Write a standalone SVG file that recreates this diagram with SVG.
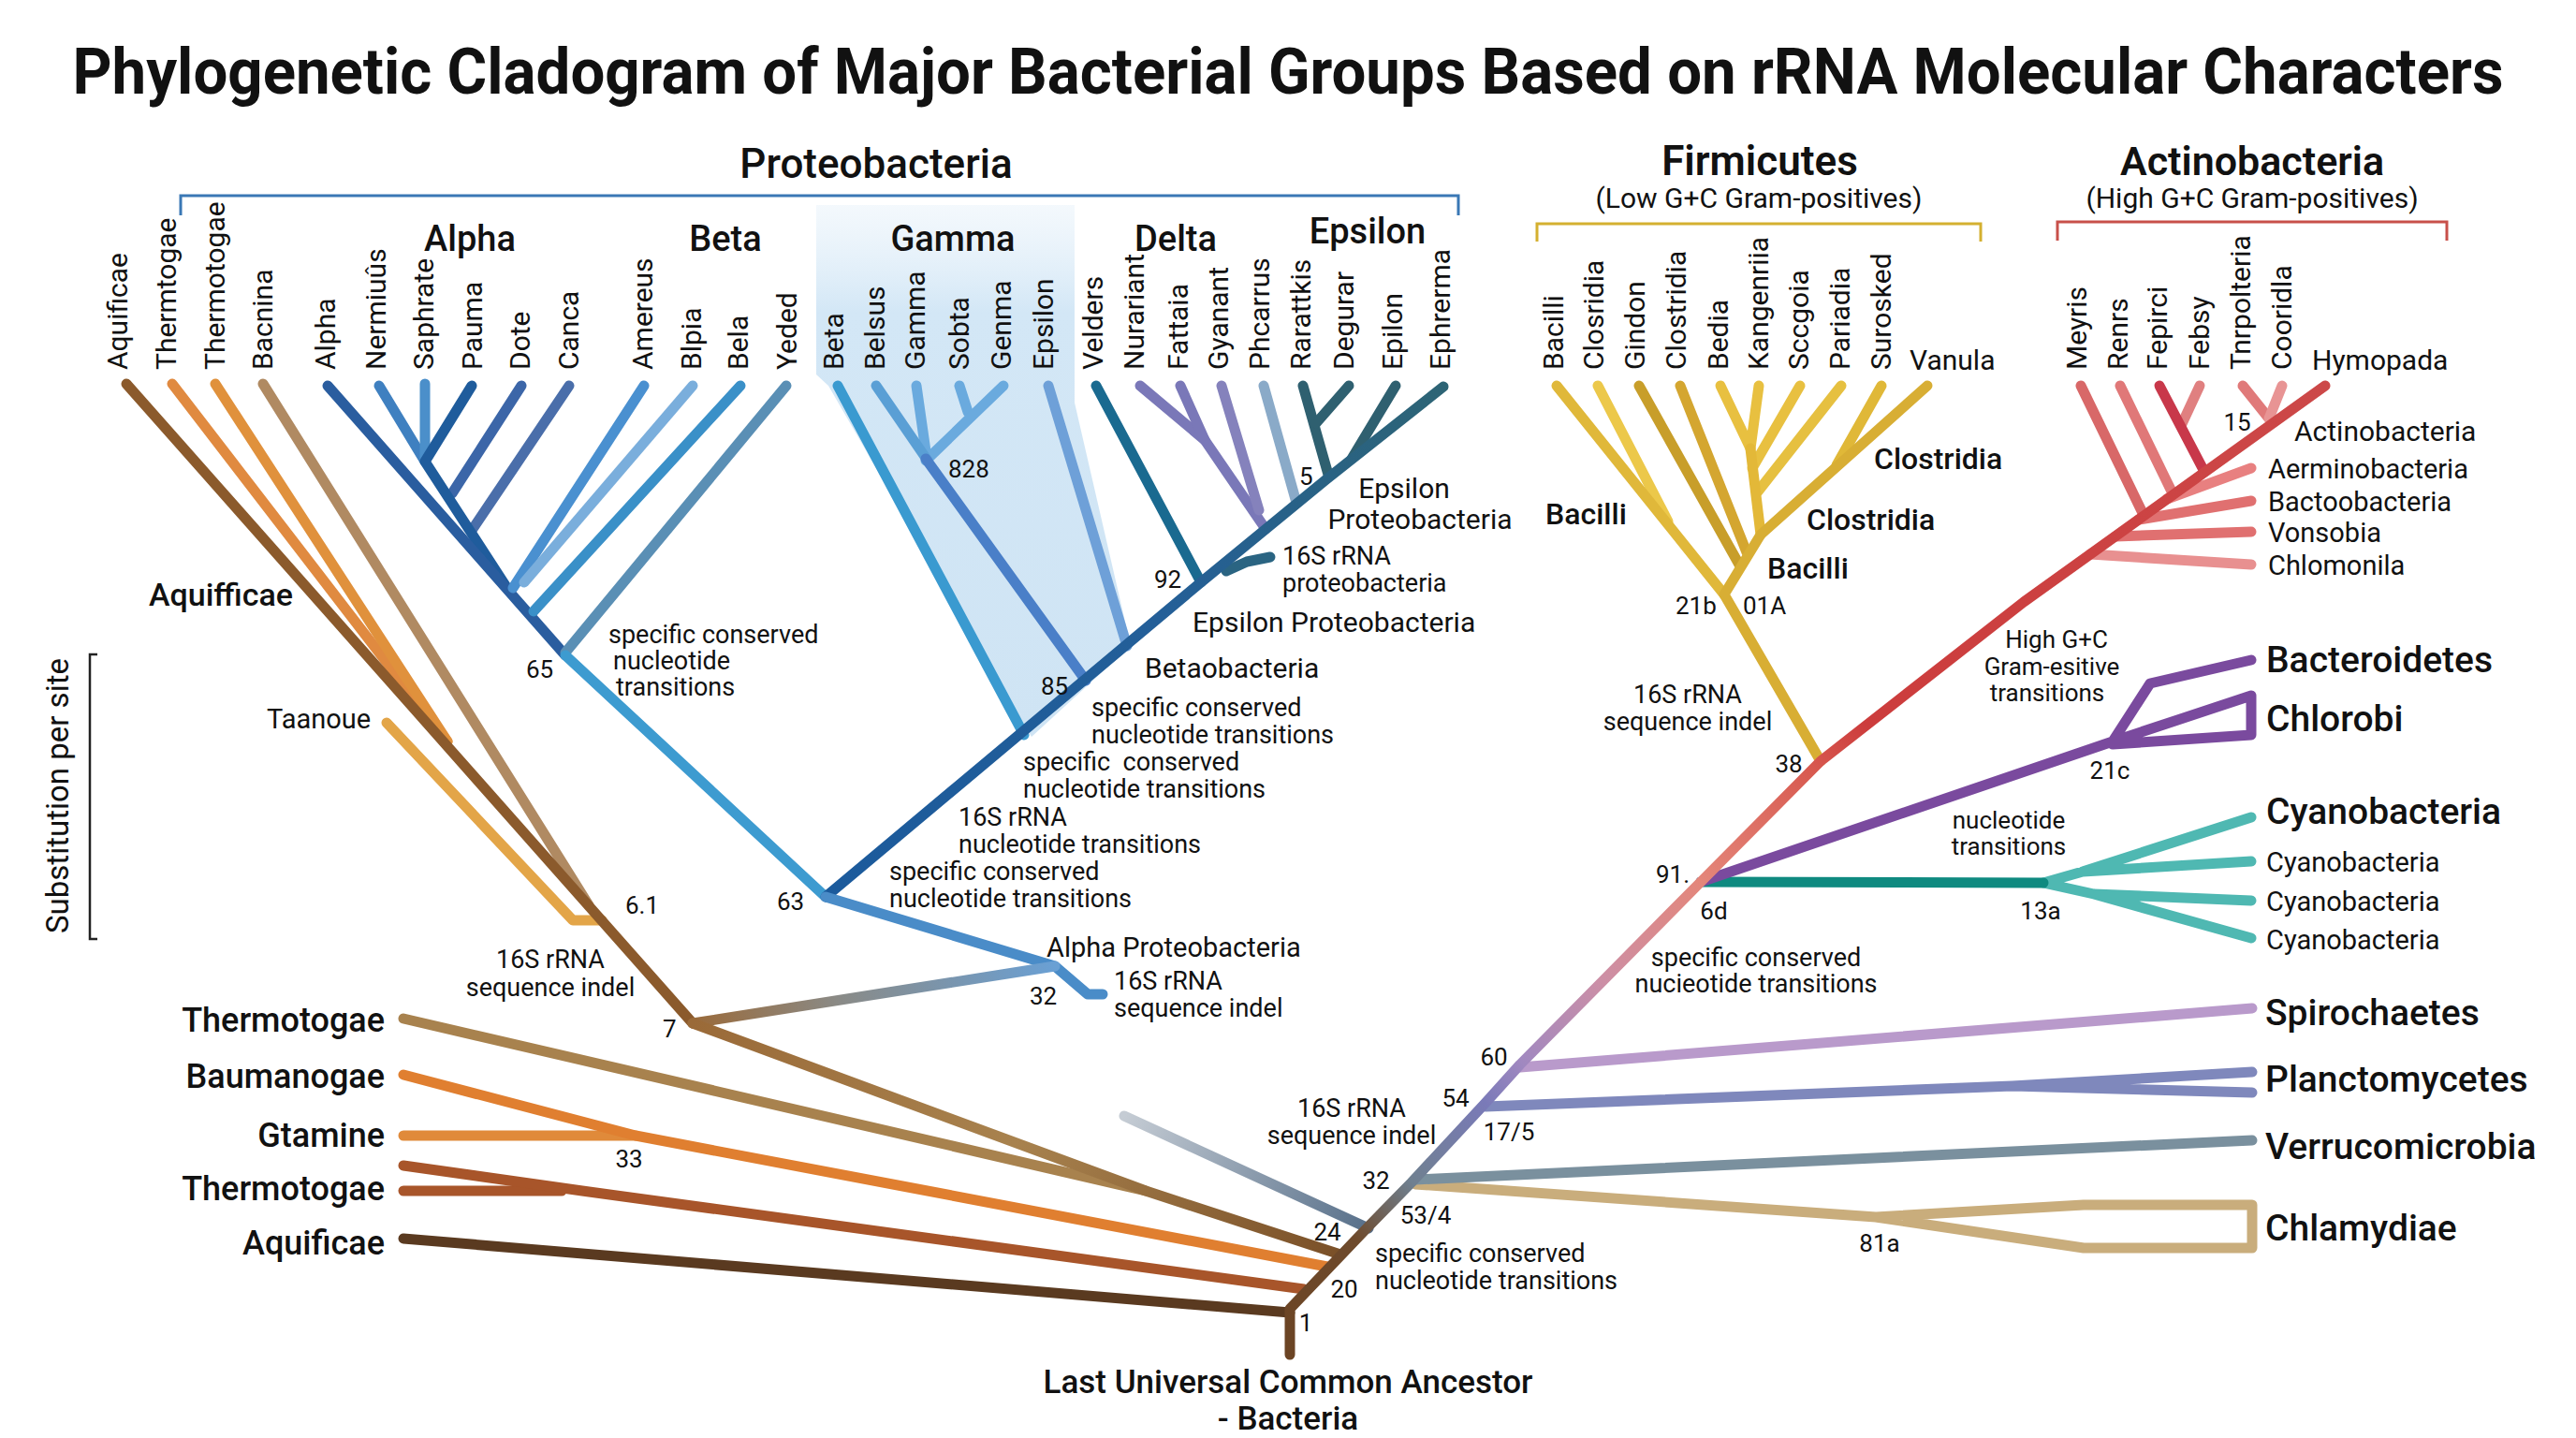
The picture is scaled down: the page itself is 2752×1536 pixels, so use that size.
<svg xmlns="http://www.w3.org/2000/svg" width="2752" height="1536" viewBox="0 0 2752 1536">
<style>
text{font-family:Roboto,"Liberation Sans",sans-serif;fill:#111}
.rl{font-size:30px}
.hd{font-size:38px;font-weight:500;text-anchor:middle}
.num{font-size:26px}
.nm{font-size:26px;text-anchor:middle}
.ann{font-size:27px}
.am{font-size:27px;text-anchor:middle}
.lbl{font-size:30px;font-weight:500}
.big{font-size:39px;font-weight:500}
.lft{font-size:36px;font-weight:500;text-anchor:end}
.grp{font-size:44px;font-weight:600;text-anchor:middle}
.sub{font-size:30px;text-anchor:middle}
.br{fill:none;stroke-width:11;stroke-linecap:round;stroke-linejoin:round}
.bk{fill:none;stroke-width:3}
</style>
<defs>
<linearGradient id="gShade" x1="0" y1="219" x2="0" y2="790" gradientUnits="userSpaceOnUse">
<stop offset="0" stop-color="#e8f2fa" stop-opacity="0.5"/>
<stop offset="0.2" stop-color="#d3e7f6"/>
<stop offset="1" stop-color="#cfe4f4"/>
</linearGradient>
<linearGradient id="gSpine" x1="1378" y1="1447" x2="2484" y2="412" gradientUnits="userSpaceOnUse">
<stop offset="0" stop-color="#6b4424"/>
<stop offset="0.09" stop-color="#6e4a2c"/>
<stop offset="0.146" stop-color="#6f8090"/>
<stop offset="0.222" stop-color="#7a7ab8"/>
<stop offset="0.26" stop-color="#a088c0"/>
<stop offset="0.34" stop-color="#cc8fa6"/>
<stop offset="0.44" stop-color="#e4867a"/>
<stop offset="0.55" stop-color="#d85a50"/>
<stop offset="0.6" stop-color="#cc3c3c"/>
<stop offset="1" stop-color="#cc4848"/>
</linearGradient>
<linearGradient id="gProteo" x1="882" y1="958" x2="1542" y2="413" gradientUnits="userSpaceOnUse">
<stop offset="0" stop-color="#1b5a9c"/>
<stop offset="0.55" stop-color="#245f98"/>
<stop offset="1" stop-color="#2d6475"/>
</linearGradient>
<linearGradient id="gSeven" x1="740" y1="1093" x2="1127" y2="1032" gradientUnits="userSpaceOnUse">
<stop offset="0" stop-color="#9a6a3a"/>
<stop offset="0.4" stop-color="#8a8a86"/>
<stop offset="1" stop-color="#6aa0d4"/>
</linearGradient>
<linearGradient id="gGray" x1="1201" y1="1192" x2="1462" y2="1312" gradientUnits="userSpaceOnUse">
<stop offset="0" stop-color="#c5ccd4"/>
<stop offset="1" stop-color="#58708a"/>
</linearGradient>
<linearGradient id="gSevenDown" x1="740" y1="1093" x2="1432" y2="1340" gradientUnits="userSpaceOnUse">
<stop offset="0" stop-color="#9a6a38"/>
<stop offset="0.5" stop-color="#a8824e"/>
<stop offset="1" stop-color="#7a5028"/>
</linearGradient>
</defs>
<rect width="2752" height="1536" fill="#ffffff"/>

<!-- shaded gamma area -->
<polygon points="872,219 1148,219 1148,430 1208,690 1102,787 885,412 872,400" fill="url(#gShade)"/>

<!-- title -->
<text id="title" transform="scale(1,1.15)" x="1376" y="87" text-anchor="middle" font-size="59" font-weight="700" textLength="2597" lengthAdjust="spacingAndGlyphs">Phylogenetic Cladogram of Major Bacterial Groups Based on rRNA Molecular Characters</text>

<!-- group headers and brackets -->
<g id="hdr-proteo">
<text class="grp" x="936" y="190" style="font-weight:500">Proteobacteria</text>
<path class="bk" d="M193,230 V209 H1558 V230" stroke="#3a78b5"/>
</g>
<g id="hdr-firmicutes">
<text class="grp" x="1880" y="187">Firmicutes</text>
<text class="sub" x="1879" y="222">(Low G+C Gram-positives)</text>
<path class="bk" d="M1642,258 V239 H2116 V258" stroke="#d4b030"/>
</g>
<g id="hdr-actino">
<text class="grp" x="2406" y="187" style="font-size:43px">Actinobacteria</text>
<text class="sub" x="2406" y="222">(High G+C Gram-positives)</text>
<path class="bk" d="M2198,257 V237 H2614 V257" stroke="#c8504a"/>
</g>
<g id="subclass-headers">
<text class="hd" x="502" y="268">Alpha</text>
<text class="hd" x="775" y="268">Beta</text>
<text class="hd" x="1018" y="268">Gamma</text>
<text class="hd" x="1256" y="268">Delta</text>
<text class="hd" x="1461" y="260">Epsilon</text>
</g>

<!-- scale -->
<g id="scale">
<text transform="translate(73,850) rotate(-90)" text-anchor="middle" font-size="33">Substitution per site</text>
<path d="M104,699 H96 V1003 H104" fill="none" stroke="#222" stroke-width="2.5"/>
</g>

<!-- connectors -->
<g id="connectors">
<!-- outgroup top -->
<path class="br" stroke="#e3a548" d="M413,772 L612,983 L643,983"/>
<path class="br" stroke="#e08a40" d="M184,410 L478,792"/>
<path class="br" stroke="#e0913c" d="M230,410 L478,792"/>
<path class="br" stroke="#b08a62" d="M281,410 L629,967"/>
<path class="br" stroke="#8b5a2c" d="M135,410 L740,1093"/>
<!-- alpha -->
<path class="br" stroke="#3f80c0" d="M405,412 L454,493"/>
<path class="br" stroke="#4b8fca" d="M454,410 L454,490"/>
<path class="br" stroke="#3c66a8" d="M557,412 L483,527"/>
<path class="br" stroke="#4a6eaa" d="M608,412 L505,565"/>
<path class="br" stroke="#1f5c9c" d="M504,412 L454,493 L541,627"/>
<path class="br" stroke="#2a5d9f" d="M350,412 L604,700"/>
<!-- beta -->
<path class="br" stroke="#4a90d0" d="M688,412 L548,628"/>
<path class="br" stroke="#7aaedc" d="M740,412 L560,622"/>
<path class="br" stroke="#3a90c8" d="M791,412 L570,653"/>
<path class="br" stroke="#5a8fb5" d="M840,412 L604,697"/>
<path class="br" stroke="#3d9bd0" d="M604,700 L882,958"/>
<!-- gamma -->
<path class="br" stroke="#3a9ad0" d="M895,412 L1094,785"/>
<path class="br" stroke="#6aaade" d="M979,412 L989,482"/>
<path class="br" stroke="#6aaade" d="M1025,412 L1034,440"/>
<path class="br" stroke="#6aaade" d="M1072,412 L989,492"/>
<path class="br" stroke="#5a9fd5" d="M936,412 L991,492"/>
<path class="br" stroke="#4a7fc8" d="M989,490 L1160,727"/>
<path class="br" stroke="#6ea0d8" d="M1120,412 L1204,690"/>
<!-- delta -->
<path class="br" stroke="#1a6a90" d="M1171,412 L1283,622"/>
<path class="br" stroke="#7a78b8" d="M1218,412 L1287,470 L1352,565"/>
<path class="br" stroke="#7a78b8" d="M1261,412 L1287,470"/>
<path class="br" stroke="#8582bc" d="M1305,412 L1345,545"/>
<path class="br" stroke="#8aaac8" d="M1350,412 L1385,537"/>
<!-- epsilon -->
<path class="br" stroke="#2f6070" d="M1392,412 L1419,507"/>
<path class="br" stroke="#2f6070" d="M1441,412 L1406,452"/>
<path class="br" stroke="#2f6070" d="M1491,412 L1444,490"/>
<path class="br" stroke="#2a6482" d="M1310,610 L1332,600 L1357,595"/>
<path class="br" stroke="url(#gProteo)" d="M882,958 L1283,622 L1417,512 L1542,413"/>
<!-- alpha proteobacteria and node 7 -->
<path class="br" stroke="#4a8cc8" d="M882,958 L1127,1032 L1162,1062 L1178,1062"/>
<path class="br" stroke="url(#gSeven)" d="M740,1093 L1127,1032"/>
<!-- bottom left -->
<path class="br" stroke="#a8824e" d="M431,1088 L1224,1272"/>
<path class="br" stroke="url(#gSevenDown)" d="M740,1093 L1224,1272 L1432,1340"/>
<path class="br" stroke="#e08a3a" d="M431,1213 L679,1213"/>
<path class="br" stroke="#e07f30" d="M431,1148 L679,1213 L1418,1353"/>
<path class="br" stroke="#a8552a" d="M431,1272 L600,1272"/>
<path class="br" stroke="#a8552a" d="M431,1245 L622,1272 L1393,1377"/>
<path class="br" stroke="#5a3a20" d="M431,1323 L1378,1402"/>
<path class="br" stroke="url(#gGray)" d="M1201,1192 L1462,1312"/>
<!-- right side -->
<path class="br" stroke="#c9ad7c" d="M1512,1265 L2004,1300 L2226,1287 L2406,1287 L2406,1333 L2226,1333 L2004,1300"/>
<path class="br" stroke="#7a909e" d="M1512,1260 L2406,1218"/>
<path class="br" stroke="#7f88bc" d="M1587,1182 L2150,1160 L2406,1145 M2150,1160 L2406,1167"/>
<path class="br" stroke="#b99acb" d="M1624,1140 L2406,1077"/>
<path class="br" stroke="#4fb8b2" d="M2183,943 L2225,931 L2405,873 M2225,931 L2405,920 M2183,943 L2237,955 L2405,962 M2237,955 L2405,1002"/>
<path class="br" stroke="#0f8a80" d="M1817,942 L2183,943"/>
<path class="br" stroke="#7a4a9e" d="M1817,942 L2257,792 L2297,730 L2405,705 M2257,792 L2405,743 L2405,785 L2257,795"/>
<!-- firmicutes -->
<path class="br" stroke="#ecc84a" d="M1707,412 L1782,557"/>
<path class="br" stroke="#e0b83a" d="M1663,412 L1842,635"/>
<path class="br" stroke="#c89e2a" d="M1751,412 L1858,603"/>
<path class="br" stroke="#d4a630" d="M1795,412 L1866,590"/>
<path class="br" stroke="#e8c040" d="M1838,412 L1870,479 M1879,412 L1870,479"/>
<path class="br" stroke="#e8c040" d="M1923,412 L1872,500"/>
<path class="br" stroke="#e6c040" d="M1967,412 L1878,525"/>
<path class="br" stroke="#e3b838" d="M1870,479 L1881,571"/>
<path class="br" stroke="#e0b838" d="M2010,412 L1962,497"/>
<path class="br" stroke="#d8ae34" d="M2059,412 L1881,571 L1842,635 L1945,813"/>
<!-- actinobacteria -->
<path class="br" stroke="#d86868" d="M2223,412 L2290,550"/>
<path class="br" stroke="#e07878" d="M2265,412 L2321,527"/>
<path class="br" stroke="#e08080" d="M2350,412 L2330,455"/>
<path class="br" stroke="#c8384a" d="M2307,412 L2353,500"/>
<path class="br" stroke="#e07a7a" d="M2396,412 L2424,447"/>
<path class="br" stroke="#e89494" d="M2438,412 L2424,447"/>
<path class="br" stroke="#e88080" d="M2315,533 L2405,500"/>
<path class="br" stroke="#e07070" d="M2285,555 L2405,535"/>
<path class="br" stroke="#e07070" d="M2260,573 L2405,568"/>
<path class="br" stroke="#e89090" d="M2233,592 L2405,603"/>
<!-- universal spine -->
<path class="br" stroke="url(#gSpine)" stroke-width="12" d="M1378,1447 L1378,1398 L1462,1310 L1508,1263 L1587,1178 L1624,1137 L1817,942 L1945,813 L2162,643 L2484,412"/>
</g>

<!-- leaf nodes: outgroup top -->
<g id="n-aquificae-top"><text class="rl" transform="translate(136,395) rotate(-90)">Aquificae</text></g>
<g id="n-thermtogae"><text class="rl" transform="translate(188,395) rotate(-90)">Thermtogae</text></g>
<g id="n-thermotogae-top"><text class="rl" transform="translate(240,395) rotate(-90)">Thermotogae</text></g>
<g id="n-bacnina"><text class="rl" transform="translate(291,395) rotate(-90)">Bacnina</text></g>
<!-- alpha -->
<g id="n-alpha"><text class="rl" transform="translate(358,395) rotate(-90)">Alpha</text></g>
<g id="n-nermiuus"><text class="rl" transform="translate(412,395) rotate(-90)">Nermiuûs</text></g>
<g id="n-saphrate"><text class="rl" transform="translate(463,395) rotate(-90)">Saphrate</text></g>
<g id="n-pauma"><text class="rl" transform="translate(515,395) rotate(-90)">Pauma</text></g>
<g id="n-dote"><text class="rl" transform="translate(566,395) rotate(-90)">Dote</text></g>
<g id="n-canca"><text class="rl" transform="translate(618,395) rotate(-90)">Canca</text></g>
<!-- beta -->
<g id="n-amereus"><text class="rl" transform="translate(697,395) rotate(-90)">Amereus</text></g>
<g id="n-blpia"><text class="rl" transform="translate(749,395) rotate(-90)">Blpia</text></g>
<g id="n-bela"><text class="rl" transform="translate(799,395) rotate(-90)">Bela</text></g>
<g id="n-yeded"><text class="rl" transform="translate(851,395) rotate(-90)">Yeded</text></g>
<!-- gamma -->
<g id="n-beta"><text class="rl" transform="translate(901,395) rotate(-90)">Beta</text></g>
<g id="n-belsus"><text class="rl" transform="translate(945,395) rotate(-90)">Belsus</text></g>
<g id="n-gamma"><text class="rl" transform="translate(988,395) rotate(-90)">Gamma</text></g>
<g id="n-sobta"><text class="rl" transform="translate(1035,395) rotate(-90)">Sobta</text></g>
<g id="n-genma"><text class="rl" transform="translate(1080,395) rotate(-90)">Genma</text></g>
<g id="n-epsilon-g"><text class="rl" transform="translate(1125,395) rotate(-90)">Epsilon</text></g>
<!-- delta -->
<g id="n-velders"><text class="rl" transform="translate(1178,395) rotate(-90)">Velders</text></g>
<g id="n-nurariant"><text class="rl" transform="translate(1222,395) rotate(-90)">Nurariant</text></g>
<g id="n-fattaia"><text class="rl" transform="translate(1269,395) rotate(-90)">Fattaia</text></g>
<g id="n-gyanant"><text class="rl" transform="translate(1312,395) rotate(-90)">Gyanant</text></g>
<g id="n-phcarrus"><text class="rl" transform="translate(1356,395) rotate(-90)">Phcarrus</text></g>
<!-- epsilon -->
<g id="n-rarattkis"><text class="rl" transform="translate(1400,395) rotate(-90)">Rarattkis</text></g>
<g id="n-degurar"><text class="rl" transform="translate(1446,395) rotate(-90)">Degurar</text></g>
<g id="n-epilon"><text class="rl" transform="translate(1498,395) rotate(-90)">Epilon</text></g>
<g id="n-ephrerma"><text class="rl" transform="translate(1549,395) rotate(-90)">Ephrerma</text></g>
<!-- firmicutes -->
<g id="n-bacilli-f"><text class="rl" transform="translate(1670,395) rotate(-90)">Bacilli</text></g>
<g id="n-closridia"><text class="rl" transform="translate(1713,395) rotate(-90)">Closridia</text></g>
<g id="n-gindon"><text class="rl" transform="translate(1757,395) rotate(-90)">Gindon</text></g>
<g id="n-clostridia-f"><text class="rl" transform="translate(1801,395) rotate(-90)">Clostridia</text></g>
<g id="n-bedia"><text class="rl" transform="translate(1846,395) rotate(-90)">Bedia</text></g>
<g id="n-kangenriia"><text class="rl" transform="translate(1889,395) rotate(-90)">Kangenriia</text></g>
<g id="n-sccgoia"><text class="rl" transform="translate(1932,395) rotate(-90)">Sccgoia</text></g>
<g id="n-pariadia"><text class="rl" transform="translate(1976,395) rotate(-90)">Pariadia</text></g>
<g id="n-surosked"><text class="rl" transform="translate(2020,395) rotate(-90)">Surosked</text></g>
<g id="n-vanula"><text class="rl" x="2040" y="395">Vanula</text></g>
<!-- actinobacteria -->
<g id="n-meyris"><text class="rl" transform="translate(2229,395) rotate(-90)">Meyris</text></g>
<g id="n-renrs"><text class="rl" transform="translate(2273,395) rotate(-90)">Renrs</text></g>
<g id="n-fepirci"><text class="rl" transform="translate(2315,395) rotate(-90)">Fepirci</text></g>
<g id="n-febsy"><text class="rl" transform="translate(2360,395) rotate(-90)">Febsy</text></g>
<g id="n-tnrpolteria"><text class="rl" transform="translate(2404,395) rotate(-90)">Tnrpolteria</text></g>
<g id="n-cooridla"><text class="rl" transform="translate(2448,395) rotate(-90)">Cooridla</text></g>
<g id="n-hymopada"><text class="rl" x="2470" y="395">Hymopada</text></g>

<!-- left internal labels -->
<g id="n-aquifficae"><text x="159" y="647" font-size="34" font-weight="500">Aquifficae</text></g>
<g id="n-taanoue"><text x="285" y="778" font-size="29">Taanoue</text></g>
<g id="nd-61"><text class="num" x="668" y="976">6.1</text></g>
<g id="ann-left-indel"><text class="am" x="588" y="1034">16S rRNA</text><text class="am" x="588" y="1064">sequence indel</text></g>
<g id="nd-7"><text class="num" x="708" y="1108">7</text></g>
<g id="nd-65"><text class="num" x="562" y="724">65</text></g>
<g id="ann-65"><text class="ann" x="650" y="687">specific conserved</text><text class="ann" x="655" y="715">nucleotide</text><text class="ann" x="658" y="743">transitions</text></g>
<g id="nd-63"><text class="num" x="830" y="972">63</text></g>

<!-- proteobacteria internal labels -->
<g id="ann-p1"><text class="ann" x="950" y="940">specific conserved</text><text class="ann" x="950" y="969">nucleotide transitions</text></g>
<g id="ann-p2"><text class="ann" x="1024" y="882">16S rRNA</text><text class="ann" x="1024" y="911">nucleotide transitions</text></g>
<g id="ann-p3"><text class="ann" x="1093" y="823" xml:space="preserve">specific  conserved</text><text class="ann" x="1093" y="852">nucleotide transitions</text></g>
<g id="ann-p4"><text class="ann" x="1166" y="765">specific conserved</text><text class="ann" x="1166" y="794">nucleotide transitions</text></g>
<g id="n-betaobacteria"><text class="lbl" x="1223" y="724" style="font-weight:400">Betaobacteria</text></g>
<g id="nd-85"><text class="num" x="1112" y="742">85</text></g>
<g id="nd-828"><text class="num" x="1013" y="510">828</text></g>
<g id="n-epsilon-proteo-lower"><text class="lbl" x="1274" y="675" style="font-weight:400">Epsilon Proteobacteria</text></g>
<g id="nd-92"><text class="num" x="1233" y="628">92</text></g>
<g id="ann-16s-proteo"><text class="ann" x="1370" y="603">16S rRNA</text><text class="ann" x="1370" y="632">proteobacteria</text></g>
<g id="n-epsilon-proteo-upper"><text class="lbl" x="1500" y="532" text-anchor="middle" style="font-weight:400">Epsilon</text><text class="lbl" x="1517" y="565" text-anchor="middle" style="font-weight:400">Proteobacteria</text></g>
<g id="nd-5"><text class="num" x="1388" y="518">5</text></g>
<g id="n-alpha-proteo"><text class="lbl" x="1118" y="1022" style="font-size:29px;font-weight:400">Alpha Proteobacteria</text></g>
<g id="nd-32a"><text class="num" x="1100" y="1073">32</text></g>
<g id="ann-alpha-indel"><text class="ann" x="1190" y="1057">16S rRNA</text><text class="ann" x="1190" y="1086">sequence indel</text></g>

<!-- firmicutes internal -->
<g id="n-bacilli-left"><text x="1651" y="560" font-size="32" font-weight="500">Bacilli</text></g>
<g id="n-clostridia-up"><text x="2002" y="501" font-size="32" font-weight="500">Clostridia</text></g>
<g id="n-clostridia-low"><text x="1930" y="566" font-size="32" font-weight="500">Clostridia</text></g>
<g id="n-bacilli-low"><text x="1888" y="618" font-size="32" font-weight="500">Bacilli</text></g>
<g id="nd-21b"><text class="num" x="1790" y="656">21b</text><text class="num" x="1862" y="656">01A</text></g>
<g id="ann-firm-indel"><text class="am" x="1803" y="751">16S rRNA</text><text class="am" x="1803" y="780">sequence indel</text></g>
<g id="nd-38"><text class="nm" x="1911" y="825">38</text></g>
<g id="ann-highgc"><text class="nm" x="2197" y="692">High G+C</text><text class="nm" x="2192" y="721">Gram-esitive</text><text class="nm" x="2187" y="749">transitions</text></g>

<!-- actinobacteria internal -->
<g id="nd-15"><text class="nm" x="2390" y="460">15</text></g>
<g id="n-actinobacteria"><text class="lbl" x="2451" y="471" style="font-weight:400">Actinobacteria</text></g>
<g id="n-aerminobacteria"><text x="2423" y="511" font-size="29">Aerminobacteria</text></g>
<g id="n-bactoobacteria"><text x="2423" y="546" font-size="29">Bactoobacteria</text></g>
<g id="n-vonsobia"><text x="2423" y="579" font-size="29">Vonsobia</text></g>
<g id="n-chlomonila"><text x="2423" y="614" font-size="29">Chlomonila</text></g>

<!-- right phyla -->
<g id="n-bacteroidetes"><text class="big" x="2421" y="718">Bacteroidetes</text></g>
<g id="n-chlorobi"><text class="big" x="2421" y="781">Chlorobi</text></g>
<g id="nd-21c"><text class="nm" x="2254" y="832">21c</text></g>
<g id="ann-nt"><text class="nm" x="2146" y="885">nucleotide</text><text class="nm" x="2146" y="913">transitions</text></g>
<g id="n-cyano"><text class="big" x="2421" y="880">Cyanobacteria</text></g>
<g id="n-cyano2"><text x="2421" y="931" font-size="29">Cyanobacteria</text></g>
<g id="n-cyano3"><text x="2421" y="973" font-size="29">Cyanobacteria</text></g>
<g id="n-cyano4"><text x="2421" y="1014" font-size="29">Cyanobacteria</text></g>
<g id="nd-91"><text class="nm" x="1787" y="943">91.</text><text class="nm" x="1831" y="982">6d</text></g>
<g id="nd-13a"><text class="nm" x="2180" y="982">13a</text></g>
<g id="ann-91"><text class="am" x="1876" y="1032">specific conserved</text><text class="am" x="1876" y="1060">nucieotide transitions</text></g>
<g id="n-spirochaetes"><text class="big" x="2420" y="1095">Spirochaetes</text></g>
<g id="n-planctomycetes"><text class="big" x="2420" y="1166">Planctomycetes</text></g>
<g id="n-verrucomicrobia"><text class="big" x="2420" y="1238">Verrucomicrobia</text></g>
<g id="n-chlamydiae"><text class="big" x="2420" y="1325">Chlamydiae</text></g>
<g id="nd-60"><text class="nm" x="1596" y="1138">60</text></g>
<g id="nd-54"><text class="nm" x="1555" y="1182">54</text><text class="nm" x="1612" y="1218">17/5</text></g>
<g id="nd-32b"><text class="nm" x="1470" y="1270">32</text><text class="nm" x="1523" y="1307">53/4</text></g>
<g id="nd-81a"><text class="nm" x="2008" y="1337">81a</text></g>
<g id="nd-24"><text class="nm" x="1418" y="1325">24</text></g>
<g id="nd-20"><text class="nm" x="1436" y="1386">20</text></g>
<g id="nd-1"><text class="nm" x="1395" y="1422">1</text></g>
<g id="ann-bottom-indel"><text class="am" x="1444" y="1193">16S rRNA</text><text class="am" x="1444" y="1222">sequence indel</text></g>
<g id="ann-bottom-sc"><text class="ann" x="1469" y="1348">specific conserved</text><text class="ann" x="1469" y="1377">nucleotide transitions</text></g>
<g id="n-luca"><text x="1376" y="1488" text-anchor="middle" font-size="35" font-weight="500">Last Universal Common Ancestor</text><text x="1376" y="1527" text-anchor="middle" font-size="35" font-weight="500">- Bacteria</text></g>

<!-- bottom-left leaves -->
<g id="n-thermotogae-b1"><text class="lft" x="411" y="1102">Thermotogae</text></g>
<g id="n-baumanogae"><text class="lft" x="411" y="1162">Baumanogae</text></g>
<g id="n-gtamine"><text class="lft" x="411" y="1225">Gtamine</text></g>
<g id="nd-33"><text class="nm" x="672" y="1247">33</text></g>
<g id="n-thermotogae-b2"><text class="lft" x="411" y="1282">Thermotogae</text></g>
<g id="n-aquificae-b"><text class="lft" x="411" y="1340">Aquificae</text></g>
</svg>
